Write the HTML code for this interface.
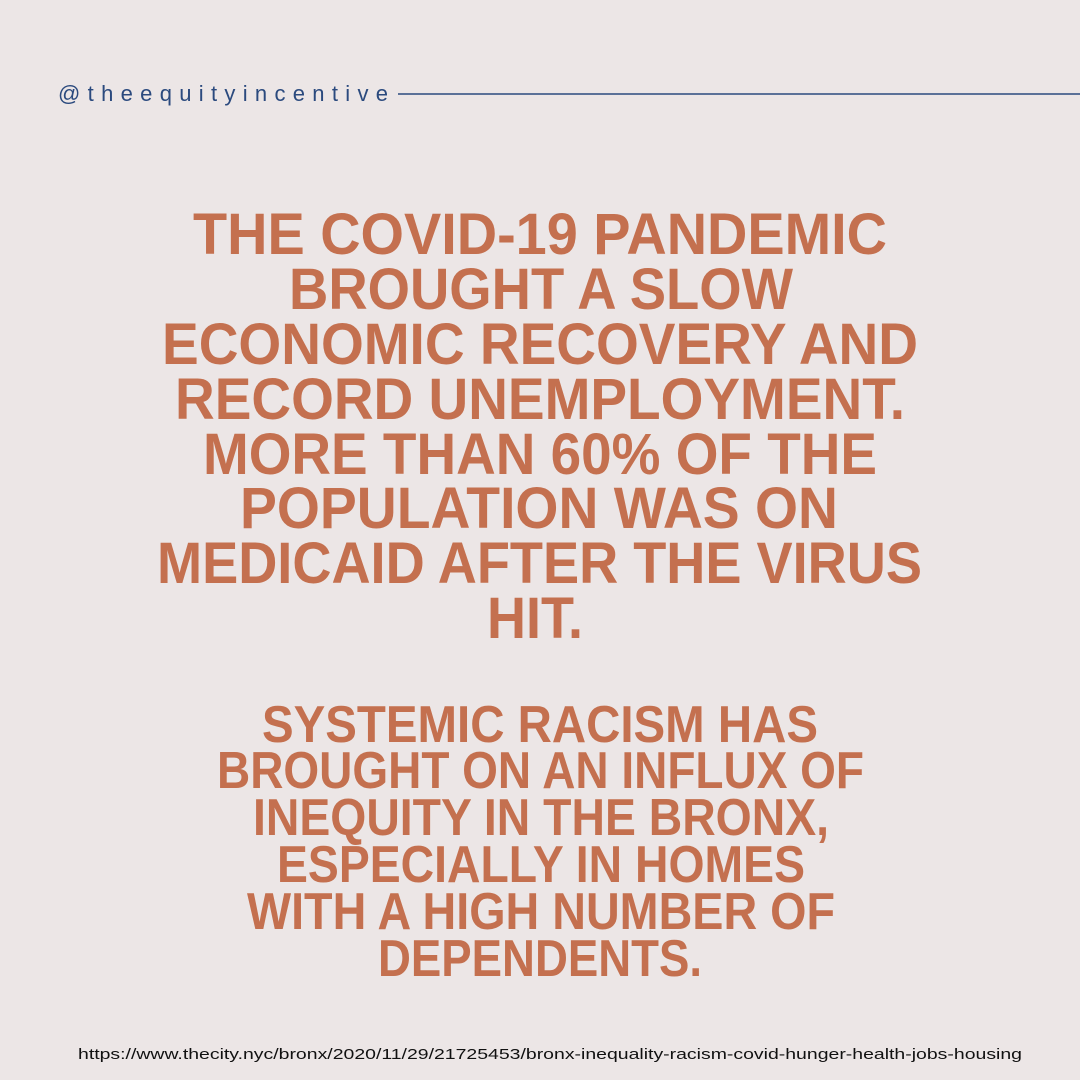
<!DOCTYPE html>
<html><head><meta charset="utf-8"><style>
html,body{margin:0;padding:0;background:#ece6e6;}
svg{display:block}
.h{font-family:"Liberation Sans",sans-serif;font-weight:bold;fill:#c4704f}
</style></head><body>
<svg width="1080" height="1080" viewBox="0 0 1080 1080">
<rect width="1080" height="1080" fill="#ece6e6"/>
<text x="58" y="101" font-family="Liberation Sans,sans-serif" font-size="22" fill="#2b4a7e" textLength="330" lengthAdjust="spacing">@theequityincentive</text>
<line x1="398" y1="94" x2="1080" y2="94" stroke="#2b4a7e" stroke-width="1.5"/>
<g class="h" font-size="58">
<text x="193" y="254" textLength="694" lengthAdjust="spacingAndGlyphs">THE COVID-19 PANDEMIC</text>
<text x="289" y="309" textLength="504" lengthAdjust="spacingAndGlyphs">BROUGHT A SLOW</text>
<text x="162" y="364" textLength="756" lengthAdjust="spacingAndGlyphs">ECONOMIC RECOVERY AND</text>
<text x="175" y="419" textLength="730" lengthAdjust="spacingAndGlyphs">RECORD UNEMPLOYMENT.</text>
<text x="203" y="474" textLength="674" lengthAdjust="spacingAndGlyphs">MORE THAN 60% OF THE</text>
<text x="240" y="528" textLength="598" lengthAdjust="spacingAndGlyphs">POPULATION WAS ON</text>
<text x="157" y="583" textLength="765" lengthAdjust="spacingAndGlyphs">MEDICAID AFTER THE VIRUS</text>
<text x="487" y="638" textLength="96" lengthAdjust="spacingAndGlyphs">HIT.</text>
</g>
<g class="h" font-size="52">
<text x="262" y="742" textLength="556" lengthAdjust="spacingAndGlyphs">SYSTEMIC RACISM HAS</text>
<text x="217" y="788" textLength="647" lengthAdjust="spacingAndGlyphs">BROUGHT ON AN INFLUX OF</text>
<text x="253" y="835" textLength="576" lengthAdjust="spacingAndGlyphs">INEQUITY IN THE BRONX,</text>
<text x="277" y="882" textLength="528" lengthAdjust="spacingAndGlyphs">ESPECIALLY IN HOMES</text>
<text x="247" y="929" textLength="588" lengthAdjust="spacingAndGlyphs">WITH A HIGH NUMBER OF</text>
<text x="378" y="976" textLength="324" lengthAdjust="spacingAndGlyphs">DEPENDENTS.</text>
</g>
<text x="78" y="1059" font-family="Liberation Sans,sans-serif" font-size="15" fill="#111" textLength="944" lengthAdjust="spacingAndGlyphs">https://www.thecity.nyc/bronx/2020/11/29/21725453/bronx-inequality-racism-covid-hunger-health-jobs-housing</text>
</svg>
</body></html>
